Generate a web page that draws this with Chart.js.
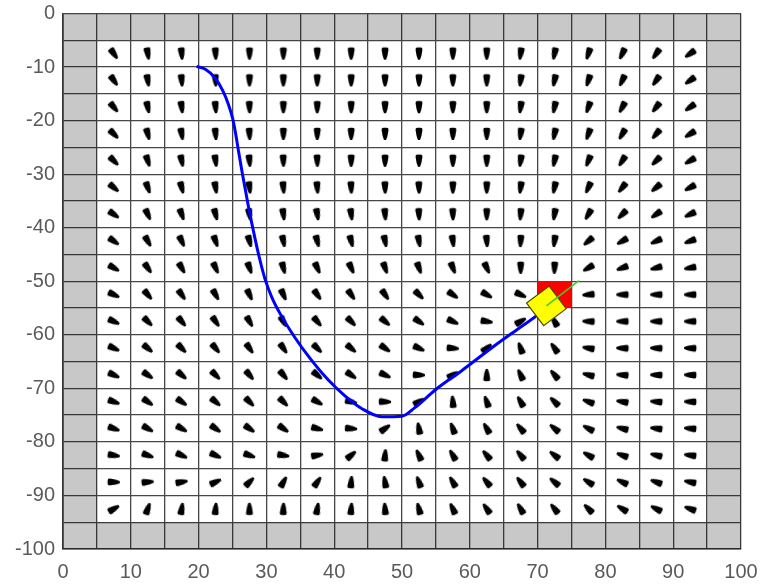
<!DOCTYPE html>
<html>
<head>
<meta charset="utf-8">
<script src="https://cdn.jsdelivr.net/npm/chart.js@4.4.0/dist/chart.umd.min.js"></script>
<style>
  html, body { margin: 0; padding: 0; background: #ffffff; }
  #wrap { width: 760px; height: 586px; }
</style>
</head>
<body>
<div id="wrap"><canvas id="c" width="760" height="586"></canvas></div>
<script>
// ---------- data ----------
const xTickValues = [0, 10, 20, 30, 40, 50, 60, 70, 80, 90, 100];
const xTickLabels = ['0', '10', '20', '30', '40', '50', '60', '70', '80', '90', '100'];
const yTickValues = [0, -10, -20, -30, -40, -50, -60, -70, -80, -90, -100];
const yTickLabels = ['0', '-10', '-20', '-30', '-40', '-50', '-60', '-70', '-80', '-90', '-100'];

// cell centres of the direction field
const fieldX = [7.5, 12.5, 17.5, 22.5, 27.5, 32.5, 37.5, 42.5, 47.5, 52.5, 57.5, 62.5, 67.5, 72.5, 77.5, 82.5, 87.5, 92.5];
const fieldY = [-7.5, -12.5, -17.5, -22.5, -27.5, -32.5, -37.5, -42.5, -47.5, -52.5, -57.5, -62.5, -67.5, -72.5, -77.5, -82.5, -87.5, -92.5];

// heading of each glyph (degrees, 0 = right, 90 = up), one array per row
const dirRow00 = [-55, -80, -85, -87, -90, -90, -90, -90, -90, -90, -90, -90, -98, -102, -108, -115, -125, -145];
const dirRow01 = [-55, -80, -85, -87, -90, -90, -90, -90, -90, -90, -90, -90, -98, -102, -108, -115, -125, -145];
const dirRow02 = [-50, -78, -82, -85, -88, -90, -90, -90, -90, -90, -90, -90, -98, -102, -110, -118, -128, -145];
const dirRow03 = [-45, -75, -80, -85, -87, -90, -90, -90, -90, -90, -90, -90, -98, -102, -110, -120, -130, -148];
const dirRow04 = [-45, -72, -78, -82, -85, -88, -88, -90, -90, -90, -90, -90, -98, -102, -112, -122, -135, -150];
const dirRow05 = [-40, -70, -75, -80, -82, -85, -85, -87, -88, -88, -90, -90, -98, -102, -115, -128, -140, -152];
const dirRow06 = [-35, -65, -70, -75, -80, -82, -80, -82, -85, -87, -88, -90, -95, -100, -120, -135, -145, -155];
const dirRow07 = [-35, -60, -65, -70, -75, -78, -75, -75, -78, -80, -82, -85, -93, -98, -140, -150, -155, -160];
const dirRow08 = [-30, -55, -60, -65, -70, -75, -65, -65, -70, -70, -68, -65, -90, -92, -150, -160, -165, -170];
const dirRow09 = [-25, -50, -55, -60, -65, -65, -55, -55, -55, -45, -35, -30, -25, 0, -175, 180, 180, 180];
const dirRow10 = [-25, -45, -50, -55, -60, -60, -50, -45, -40, -35, -25, -10, 30, 120, 178, 180, 180, 180];
const dirRow11 = [-25, -40, -45, -50, -55, -55, -45, -40, -35, -25, -5, 40, 110, 125, 170, 178, 178, 178];
const dirRow12 = [-25, -35, -40, -45, -50, -50, -40, -35, -25, -2, 30, 90, 115, 130, 165, 175, 178, 178];
const dirRow13 = [-20, -35, -35, -40, -45, -45, -30, -15, -2, 30, 95, 110, 120, 135, 160, 170, 175, 178];
const dirRow14 = [-20, -30, -30, -35, -35, -35, -15, -5, 35, 100, 110, 120, 130, 140, 152, 165, 172, 175];
const dirRow15 = [-10, -20, -25, -25, -20, -10, 10, 40, 85, 115, 120, 130, 130, 142, 150, 160, 166, 172];
const dirRow16 = [-2, 5, 10, 25, 45, 60, 55, 85, 100, 110, 120, 130, 128, 140, 148, 155, 160, 168];
const dirRow17 = [30, 70, 80, 85, 90, 88, 80, 85, 95, 105, 115, 125, 120, 128, 135, 148, 153, 160];

// trajectory (blue)
const pathX = [19.7, 21.0, 22.4, 23.6, 24.4, 25.0, 25.4, 25.9, 26.4, 27.3, 28.3, 29.0, 29.8, 30.8, 32.0, 34.2, 36.5, 39.1, 41.5, 44.1, 47.0, 50.0, 51.9, 54.9, 58.8, 63.7, 67.0, 70.1, 71.3];
const pathY = [-9.9, -10.4, -12.0, -14.5, -17.0, -19.5, -22.0, -25.8, -29.5, -35.7, -41.9, -45.8, -49.6, -53.0, -56.0, -60.5, -64.5, -68.4, -71.3, -73.8, -75.3, -75.2, -73.6, -70.3, -66.7, -62.0, -59.0, -56.2, -54.8];

// goal cell (red)
const goalX = [70, 75];
const goalTop = -50;
const goalBottom = -55;

// robot pose (yellow square) and heading line (green)
const robotX = [71.3];
const robotY = [-54.6];
const robotAngle = [-37];
const headingX = [71.3, 76.1];
const headingY = [-54.6, -49.9];

// grey wall cells around the border
const wallLow = [0, 5];
const wallHigh = [95, 100];
const yTop = 0, yBottom = -100;

// ---------- build ----------
const dirRows = [dirRow00, dirRow01, dirRow02, dirRow03, dirRow04, dirRow05, dirRow06, dirRow07, dirRow08,
  dirRow09, dirRow10, dirRow11, dirRow12, dirRow13, dirRow14, dirRow15, dirRow16, dirRow17];

const glyphPts = [];
const glyphRot = [];
dirRows.forEach((row, r) => {
  row.forEach((phi, c) => {
    glyphPts.push({ x: fieldX[c], y: fieldY[r] });
    glyphRot.push(-90 - phi);
  });
});

function makeGlyph() {
  const cv = document.createElement('canvas');
  cv.width = 18; cv.height = 18;
  const g = cv.getContext('2d');
  g.translate(9, 9);
  g.scale(1.15, 1.12);
  g.beginPath();
  g.moveTo(-3.0, -3.6);
  g.quadraticCurveTo(-3.3, -5.5, -1.3, -5.6);
  g.lineTo(1.3, -5.6);
  g.quadraticCurveTo(3.3, -5.5, 3.0, -3.6);
  g.quadraticCurveTo(2.4, 1.8, 0.9, 5.4);
  g.lineTo(-0.9, 5.4);
  g.quadraticCurveTo(-2.4, 1.8, -3.0, -3.6);
  g.closePath();
  g.fillStyle = '#000000';
  g.fill();
  return cv;
}
const glyph = makeGlyph();

const wallFill = 'rgba(0,0,0,0.215)';
function band(x0, x1, y0, y1) {
  return {
    data: [{ x: x0, y: y0 }, { x: x1, y: y0 }],
    showLine: true, fill: { value: y1 },
    backgroundColor: wallFill, borderWidth: 0, pointRadius: 0, order: 10
  };
}

const datasets = [
  // walls
  band(0, 100, yTop, -wallLow[1]),
  band(0, 100, -wallHigh[0], yBottom),
  band(wallLow[0], wallLow[1], -wallLow[1], -wallHigh[0]),
  band(wallHigh[0], wallHigh[1], -wallLow[1], -wallHigh[0]),
  // glyph field
  {
    data: glyphPts,
    pointStyle: glyph,
    rotation: (ctx) => glyphRot[ctx.dataIndex],
    pointRadius: 9,
    order: 8
  },
  // goal cell
  {
    data: [{ x: goalX[0], y: goalTop }, { x: goalX[1], y: goalTop }],
    showLine: true, fill: { value: goalBottom },
    backgroundColor: '#ff0000', borderWidth: 0, pointRadius: 0, order: 6
  },
  // trajectory
  {
    data: pathX.map((x, i) => ({ x: x, y: pathY[i] })),
    showLine: true, borderColor: '#0000ff', borderWidth: 3,
    pointRadius: 0, cubicInterpolationMode: 'monotone', fill: false, order: 4
  },
  // robot body
  {
    data: robotX.map((x, i) => ({ x: x, y: robotY[i] })),
    pointStyle: 'rect', rotation: robotAngle[0], pointRadius: 20,
    backgroundColor: '#ffff00', borderColor: '#4d4d00', borderWidth: 1.2, order: 2
  },
  // heading line
  {
    data: headingX.map((x, i) => ({ x: x, y: headingY[i] })),
    showLine: true, borderColor: '#44cc22', borderWidth: 1.5, pointRadius: 0, fill: false, order: 1
  }
];

const tickFont = { family: "'Liberation Sans', Arial, sans-serif", size: 20 };
const gridColor = '#474747';

new Chart(document.getElementById('c'), {
  type: 'scatter',
  data: { datasets: datasets },
  options: {
    responsive: false,
    animation: false,
    events: [],
    layout: { autoPadding: false, padding: { left: 0, right: 19, top: 13.5, bottom: 0 } },
    plugins: { legend: { display: false }, tooltip: { enabled: false } },
    scales: {
      x: {
        type: 'linear', min: 0, max: 100,
        grid: { color: gridColor, lineWidth: 1.3, drawTicks: false },
        border: { color: '#333333', width: 1.6 },
        ticks: {
          stepSize: 5, padding: 11, color: '#5a5a5a', font: tickFont, maxRotation: 0, autoSkip: false,
          callback: (v) => { const i = xTickValues.indexOf(v); return i >= 0 ? xTickLabels[i] : ''; }
        },
        afterFit: (s) => { s.height = 37; s.paddingLeft = 0; s.paddingRight = 0; }
      },
      y: {
        type: 'linear', min: -100, max: 0,
        grid: { color: gridColor, lineWidth: 1.3, drawTicks: false },
        border: { color: '#333333', width: 1.6 },
        ticks: {
          stepSize: 5, padding: 8, color: '#5a5a5a', font: tickFont, autoSkip: false,
          callback: (v) => { const i = yTickValues.indexOf(v); return i >= 0 ? yTickLabels[i] : ''; }
        },
        afterFit: (s) => { s.width = 63; s.paddingTop = 0; s.paddingBottom = 0; }
      }
    }
  }
});
</script>
</body>
</html>
